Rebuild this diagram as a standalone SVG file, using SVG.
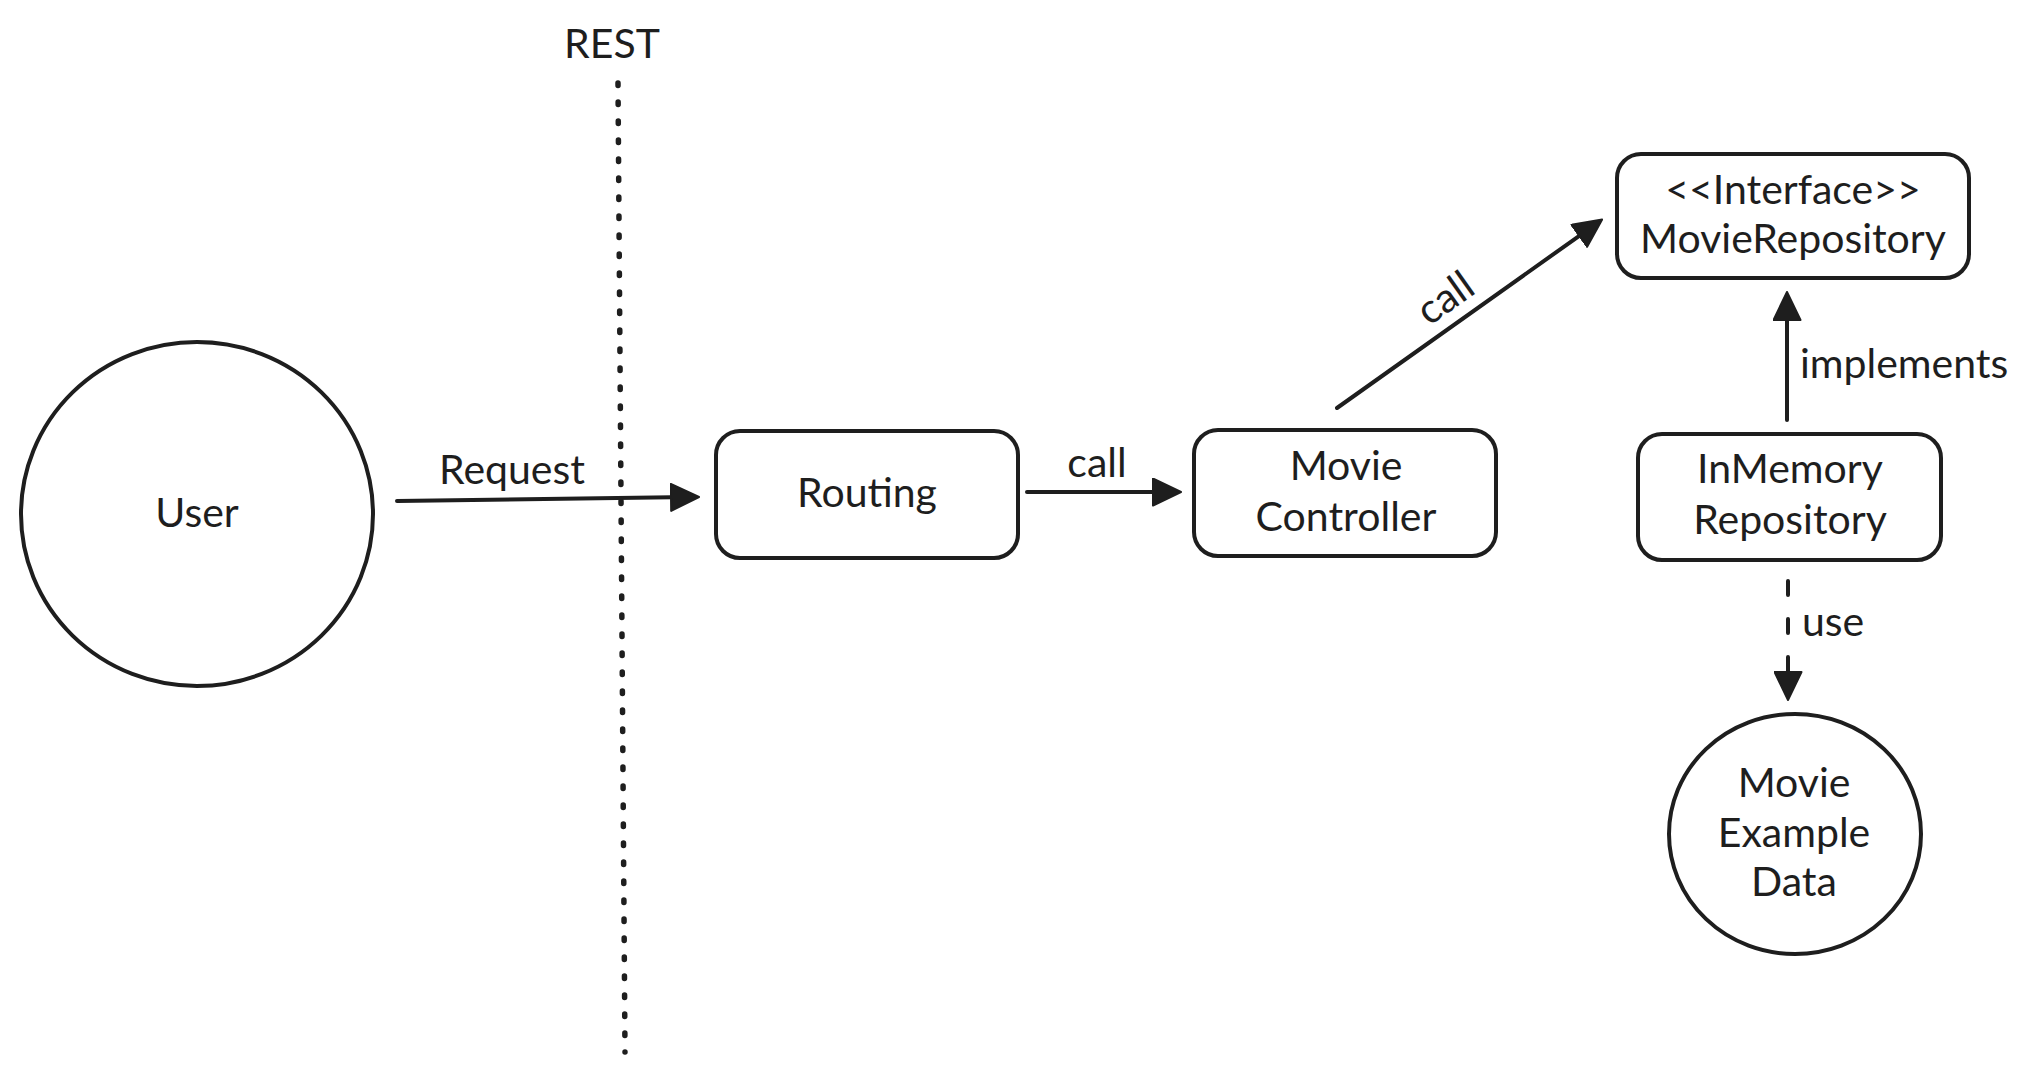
<svg xmlns="http://www.w3.org/2000/svg" width="2032" height="1079" viewBox="0 0 2032 1079">
  <style>
    .shape { fill: #ffffff; stroke: #1e1e1e; stroke-width: 4; }
    .lbl { font-family: Lato, "Noto Sans", "Liberation Sans", sans-serif; font-size: 41px; fill: #1e1e1e; text-anchor: middle; }
    .lbl-start { text-anchor: start; }
    .conn { fill: none; stroke: #1e1e1e; stroke-width: 4; stroke-linecap: round; }
    .dashed { stroke-dasharray: 14 24; }
    .dotted { stroke-width: 5.5; stroke-dasharray: 2.5 16.5; }
  </style>
  <defs>
    <marker id="arrow" viewBox="0 0 30 29" markerUnits="userSpaceOnUse" markerWidth="30" markerHeight="29" refX="20" refY="14.5" orient="auto">
      <path d="M1,1 L29,14.5 L1,28 Z" fill="#1e1e1e" stroke="#1e1e1e" stroke-width="2" stroke-linejoin="round"/>
    </marker>
  </defs>
  <rect width="2032" height="1079" fill="#ffffff"/>

  <g id="rest-boundary">
    <text class="lbl" x="612" y="58">REST</text>
    <path class="conn dotted" d="M618,83 L625,1052"/>
  </g>

  <g id="connectors">
    <path class="conn" d="M397,501 L690,497.1" marker-end="url(#arrow)"/>
    <text class="lbl" x="512" y="484">Request</text>
    <path class="conn" d="M1027,492 L1172,492" marker-end="url(#arrow)"/>
    <text class="lbl" x="1097" y="477">call</text>
    <path class="conn" d="M1337,408 L1594.8,224.8" marker-end="url(#arrow)"/>
    <text class="lbl" transform="translate(1445,298) rotate(-35.4)" x="0" y="14">call</text>
    <path class="conn" d="M1787,420 L1787,301" marker-end="url(#arrow)"/>
    <text class="lbl lbl-start" x="1800" y="378">implements</text>
    <path class="conn dashed" d="M1788,581 L1788,691" marker-end="url(#arrow)"/>
    <text class="lbl lbl-start" x="1802" y="636">use</text>
  </g>

  <g id="user">
    <ellipse class="shape" cx="197" cy="514" rx="176" ry="172"/>
    <text class="lbl" x="197" y="527">User</text>
  </g>

  <g id="routing">
    <rect class="shape" x="716" y="431" width="302" height="127" rx="24"/>
    <text class="lbl" x="867" y="507">Routing</text>
  </g>

  <g id="movie-controller">
    <rect class="shape" x="1194" y="430" width="302" height="126" rx="24"/>
    <text class="lbl" x="1346" y="480">Movie</text>
    <text class="lbl" x="1346" y="531">Controller</text>
  </g>

  <g id="movie-repository">
    <rect class="shape" x="1617" y="154" width="352" height="124" rx="24"/>
    <text class="lbl" x="1793" y="204">&lt;&lt;Interface&gt;&gt;</text>
    <text class="lbl" x="1793" y="253">MovieRepository</text>
  </g>

  <g id="inmemory-repository">
    <rect class="shape" x="1638" y="434" width="303" height="126" rx="24"/>
    <text class="lbl" x="1790" y="483">InMemory</text>
    <text class="lbl" x="1790" y="534">Repository</text>
  </g>

  <g id="movie-example-data">
    <ellipse class="shape" cx="1795" cy="834" rx="126" ry="120"/>
    <text class="lbl" x="1794" y="797">Movie</text>
    <text class="lbl" x="1794" y="847">Example</text>
    <text class="lbl" x="1794" y="896">Data</text>
  </g>
</svg>
